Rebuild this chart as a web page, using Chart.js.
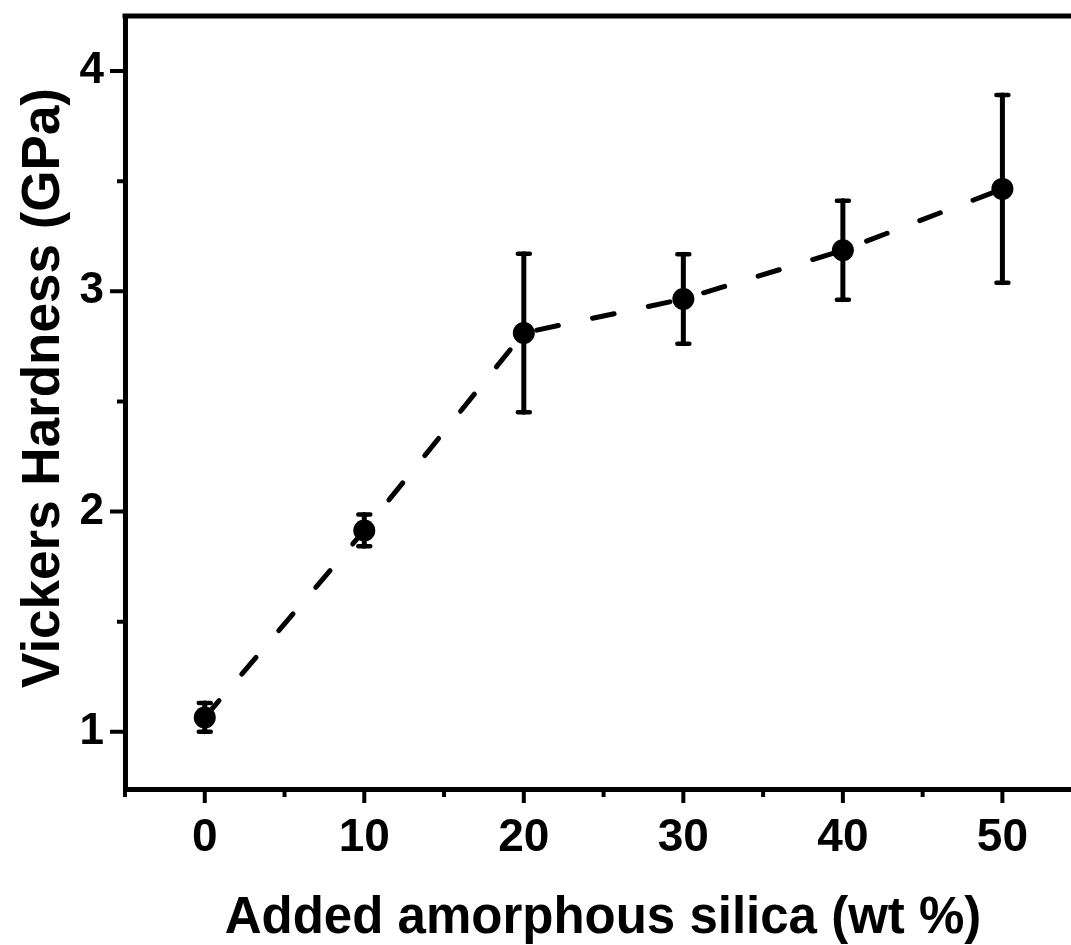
<!DOCTYPE html>
<html>
<head>
<meta charset="utf-8">
<script src="https://cdn.jsdelivr.net/npm/chart.js@4/dist/chart.umd.min.js"></script>
<style>
  html, body { margin: 0; padding: 0; background: #fff; overflow: hidden; }
  #wrap { width: 1071px; height: 945px; }
</style>
</head>
<body>
<div id="wrap"><canvas id="c" width="1071" height="945"></canvas></div>
<script>
// ---- data ----
const silicaWt = [0, 10, 20, 30, 40, 50];
const hardness = [1.065, 1.914, 2.811, 2.965, 3.186, 3.465];
const hardnessErr = [0.065, 0.072, 0.36, 0.203, 0.225, 0.426];
const xMajorTicks = [0, 10, 20, 30, 40, 50];
const xMinorTicks = [-5, 5, 15, 25, 35, 45];
const yMajorTicks = [1, 2, 3, 4];
const yMinorTicks = [1.5, 2.5, 3.5];
const xTitle = 'Added amorphous silica (wt %)';
const yTitle = 'Vickers Hardness (GPa)';

const FONT = "'Liberation Sans', Arial, Helvetica, sans-serif";

const framePlugin = {
  id: 'frame',
  beforeDatasetsDraw(chart) {
    const ctx = chart.ctx;
    const x = chart.scales.x, y = chart.scales.y;
    // error bars
    ctx.save();
    ctx.strokeStyle = '#000';
    ctx.lineCap = 'round';
    for (let i = 0; i < silicaWt.length; i++) {
      const px = x.getPixelForValue(silicaWt[i]);
      const top = y.getPixelForValue(hardness[i] + hardnessErr[i]);
      const bot = y.getPixelForValue(hardness[i] - hardnessErr[i]);
      ctx.lineWidth = 5;
      ctx.beginPath();
      ctx.moveTo(px, top); ctx.lineTo(px, bot);
      ctx.stroke();
      ctx.lineWidth = 4.5;
      ctx.beginPath();
      ctx.moveTo(px - 6, top); ctx.lineTo(px + 6, top);
      ctx.moveTo(px - 6, bot); ctx.lineTo(px + 6, bot);
      ctx.stroke();
    }
    ctx.restore();
  },
  afterDraw(chart) {
    const ctx = chart.ctx;
    const a = chart.chartArea;
    const x = chart.scales.x, y = chart.scales.y;
    ctx.save();
    ctx.strokeStyle = '#000';
    ctx.lineCap = 'butt';
    // top frame line
    ctx.lineWidth = 5;
    ctx.beginPath();
    ctx.moveTo(a.left - 2.5, a.top);
    ctx.lineTo(a.right, a.top);
    ctx.stroke();
    // ticks
    ctx.lineWidth = 4;
    ctx.beginPath();
    xMajorTicks.forEach(v => { const p = x.getPixelForValue(v); ctx.moveTo(p, a.bottom); ctx.lineTo(p, a.bottom + 14); });
    xMinorTicks.forEach(v => { const p = x.getPixelForValue(v); ctx.moveTo(p, a.bottom); ctx.lineTo(p, a.bottom + 8); });
    yMajorTicks.forEach(v => { const p = y.getPixelForValue(v); ctx.moveTo(a.left, p); ctx.lineTo(a.left - 15, p); });
    yMinorTicks.forEach(v => { const p = y.getPixelForValue(v); ctx.moveTo(a.left, p); ctx.lineTo(a.left - 8, p); });
    ctx.stroke();
    // titles
    ctx.fillStyle = '#000';
    ctx.textAlign = 'center';
    ctx.textBaseline = 'alphabetic';
    ctx.font = 'bold 51px ' + FONT;
    ctx.fillText(xTitle, 603, 933);
    ctx.font = 'bold 53px ' + FONT;
    ctx.translate(59, 388);
    ctx.rotate(-Math.PI / 2);
    ctx.fillText(yTitle, 0, 0);
    ctx.restore();
  }
};

new Chart(document.getElementById('c'), {
  type: 'line',
  data: {
    labels: silicaWt,
    datasets: [{
      data: silicaWt.map((v, i) => ({ x: v, y: hardness[i] })),
      borderColor: '#000',
      backgroundColor: '#000',
      borderWidth: 5,
      borderDash: [22, 35],
      borderCapStyle: 'round',
      pointRadius: 11,
      pointBackgroundColor: '#000',
      pointBorderWidth: 0,
      tension: 0,
      fill: false,
      clip: false
    }]
  },
  options: {
    responsive: false,
    animation: false,
    devicePixelRatio: 1,
    layout: { autoPadding: false, padding: { top: 16, right: 0, left: 0, bottom: 0 } },
    plugins: { legend: { display: false }, tooltip: { enabled: false } },
    scales: {
      x: {
        type: 'linear',
        min: -5,
        max: 54.3,
        grid: { display: false },
        border: { display: true, width: 5, color: '#000' },
        afterBuildTicks: (axis) => { axis.ticks = xMajorTicks.map(v => ({ value: v })); },
        afterFit: (axis) => { axis.height = 156; axis.paddingLeft = 0; axis.paddingRight = 0; },
        ticks: {
          color: '#000',
          padding: 14,
          maxRotation: 0,
          autoSkip: false,
          font: { family: FONT, size: 46, weight: 'bold' }
        }
      },
      y: {
        type: 'linear',
        min: 0.74,
        max: 4.25,
        grid: { display: false },
        border: { display: true, width: 5, color: '#000' },
        afterBuildTicks: (axis) => { axis.ticks = yMajorTicks.map(v => ({ value: v })); },
        afterFit: (axis) => { axis.width = 125; axis.paddingTop = 0; axis.paddingBottom = 0; },
        ticks: {
          color: '#000',
          padding: 13,
          autoSkip: false,
          font: { family: FONT, size: 44, weight: 'bold' }
        }
      }
    }
  },
  plugins: [framePlugin]
});
</script>
</body>
</html>
